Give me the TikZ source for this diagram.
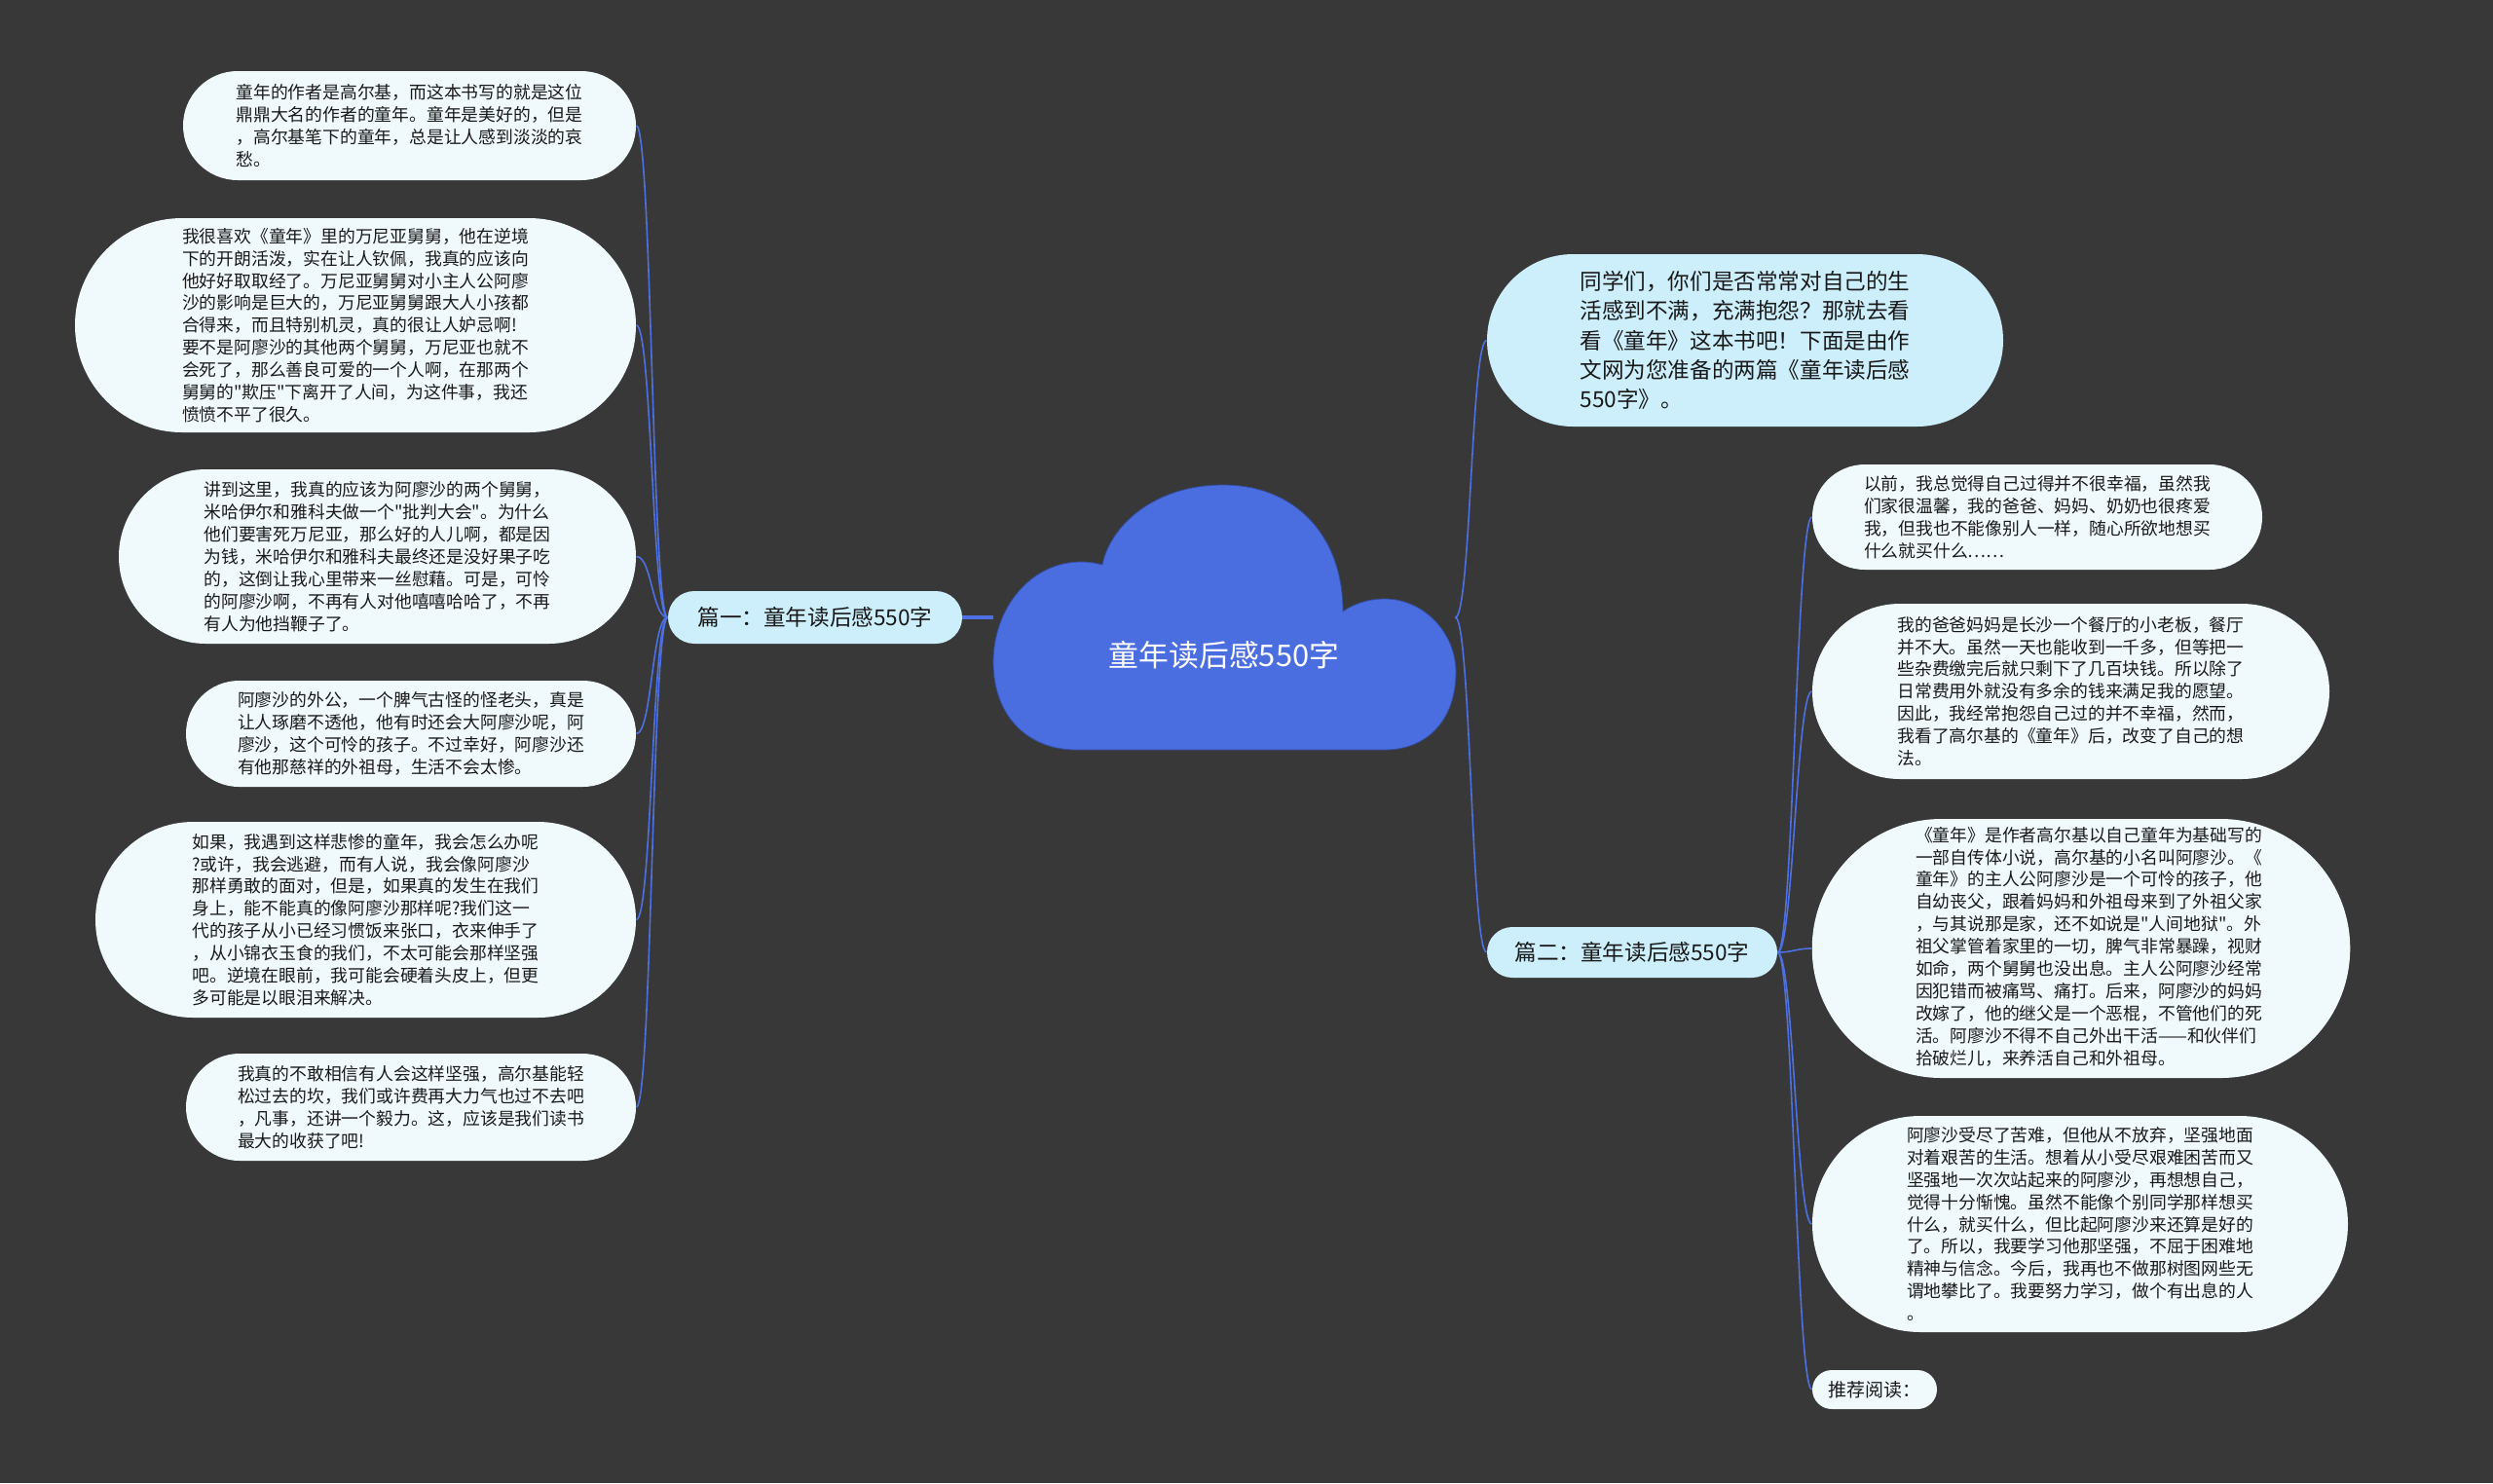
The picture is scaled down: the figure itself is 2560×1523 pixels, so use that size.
\documentclass[tikz,border=0pt]{standalone}
\usepackage{fontspec}
\newfontfamily\cjk{Noto Sans CJK SC}
\usetikzlibrary{shapes.misc}

\definecolor{bgdark}{HTML}{383838}
\definecolor{cloudblue}{HTML}{4A6EE0}
\definecolor{wireblue}{HTML}{4D70E2}
\definecolor{leaffill}{HTML}{F0FAFD}
\definecolor{branchfill}{HTML}{CDEEFB}

\begin{document}
\begin{tikzpicture}[x=0.5pt, y=-0.5pt,
  leaf/.style={rounded rectangle, fill=leaffill, inner sep=0pt, align=left,
    text=black!90, font=\cjk\fontsize{8.9}{11.45}\selectfont},
  branch/.style={rounded rectangle, fill=branchfill, inner sep=0pt, align=left,
    text=black!90, font=\cjk\fontsize{11.3}{15.1}\selectfont},
  wire/.style={wireblue, line width=0.8pt}]

  % --- Background ---
  \fill[bgdark] (0,0) rectangle (2560,1523);

  % --- Cloud ---
  \fill[cloudblue, draw=cloudblue!70!black, line width=0.4pt]
    (1105,770) -- (1422,770)
    .. controls (1465,770) and (1495,740) .. (1495,690)
    .. controls (1495,650) and (1462,615) .. (1422,615)
    .. controls (1405,615) and (1390,620) .. (1379,628)
    .. controls (1379,550) and (1330,498) .. (1256,498)
    .. controls (1185,498) and (1140,540) .. (1132,580)
    .. controls (1125,578) and (1118,577) .. (1110,577)
    .. controls (1058,577) and (1020,625) .. (1020,680)
    .. controls (1020,735) and (1055,770) .. (1105,770) -- cycle;
  \node[minimum width=237pt, minimum height=136pt, inner sep=0pt] (root) at (1257,634) {};
  \node[text=white, font=\cjk\fontsize{15.4}{18}\selectfont] (title) at (1257,673) {童年读后感550字};

  % --- Branches ---
  \node[branch, minimum width=151pt, minimum height=27pt] (p1) at (837,634) {篇一：童年读后感550字};
  \node[branch, minimum width=149pt, minimum height=26pt] (p2) at (1676,978) {篇二：童年读后感550字};
  \node[branch, minimum width=265pt, minimum height=88.5pt] (intro) at (1792,349.5)
    {同学们，你们是否常常对自己的生\\活感到不满，充满抱怨？那就去看\\看《童年》这本书吧！下面是由作\\文网为您准备的两篇《童年读后感\\550字》。};

  % --- Left leaves ---
  \node[leaf, minimum width=232.5pt, minimum height=56pt] (l1) at (420.5,129)
    {童年的作者是高尔基，而这本书写的就是这位\\鼎鼎大名的作者的童年。童年是美好的，但是\\，高尔基笔下的童年，总是让人感到淡淡的哀\\愁。};
  \node[leaf, minimum width=288pt, minimum height=110pt] (l2) at (365,334)
    {我很喜欢《童年》里的万尼亚舅舅，他在逆境\\下的开朗活泼，实在让人钦佩，我真的应该向\\他好好取取经了。万尼亚舅舅对小主人公阿廖\\沙的影响是巨大的，万尼亚舅舅跟大人小孩都\\合得来，而且特别机灵，真的很让人妒忌啊!\\要不是阿廖沙的其他两个舅舅，万尼亚也就不\\会死了，那么善良可爱的一个人啊，在那两个\\舅舅的"欺压"下离开了人间，为这件事，我还\\愤愤不平了很久。};
  \node[leaf, minimum width=265.5pt, minimum height=89.5pt] (l3) at (387.5,571.5)
    {讲到这里，我真的应该为阿廖沙的两个舅舅，\\米哈伊尔和雅科夫做一个"批判大会"。为什么\\他们要害死万尼亚，那么好的人儿啊，都是因\\为钱，米哈伊尔和雅科夫最终还是没好果子吃\\的，这倒让我心里带来一丝慰藉。可是，可怜\\的阿廖沙啊，不再有人对他嘻嘻哈哈了，不再\\有人为他挡鞭子了。};
  \node[leaf, minimum width=231pt, minimum height=54.5pt] (l4) at (422,753.5)
    {阿廖沙的外公，一个脾气古怪的怪老头，真是\\让人琢磨不透他，他有时还会大阿廖沙呢，阿\\廖沙，这个可怜的孩子。不过幸好，阿廖沙还\\有他那慈祥的外祖母，生活不会太惨。};
  \node[leaf, minimum width=277.5pt, minimum height=100.5pt] (l5) at (375.5,944.5)
    {如果，我遇到这样悲惨的童年，我会怎么办呢\\?或许，我会逃避，而有人说，我会像阿廖沙\\那样勇敢的面对，但是，如果真的发生在我们\\身上，能不能真的像阿廖沙那样呢?我们这一\\代的孩子从小已经习惯饭来张口，衣来伸手了\\，从小锦衣玉食的我们，不太可能会那样坚强\\吧。逆境在眼前，我可能会硬着头皮上，但更\\多可能是以眼泪来解决。};
  \node[leaf, minimum width=231pt, minimum height=55pt] (l6) at (422,1137)
    {我真的不敢相信有人会这样坚强，高尔基能轻\\松过去的坎，我们或许费再大力气也过不去吧\\，凡事，还讲一个毅力。这，应该是我们读书\\最大的收获了吧!};

  % --- Right leaves ---
  \node[leaf, minimum width=231pt, minimum height=54pt] (r1) at (2092,531)
    {以前，我总觉得自己过得并不很幸福，虽然我\\们家很温馨，我的爸爸、妈妈、奶奶也很疼爱\\我，但我也不能像别人一样，随心所欲地想买\\什么就买什么……};
  \node[leaf, minimum width=265.5pt, minimum height=90pt] (r2) at (2126.5,710)
    {我的爸爸妈妈是长沙一个餐厅的小老板，餐厅\\并不大。虽然一天也能收到一千多，但等把一\\些杂费缴完后就只剩下了几百块钱。所以除了\\日常费用外就没有多余的钱来满足我的愿望。\\因此，我经常抱怨自己过的并不幸福，然而，\\我看了高尔基的《童年》后，改变了自己的想\\法。};
  \node[leaf, minimum width=276pt, minimum height=133pt] (r3) at (2137,974)
    {\begin{tabular}{@{\hspace{8pt}}l@{}}%
    《童年》是作者高尔基以自己童年为基础写的\\一部自传体小说，高尔基的小名叫阿廖沙。《\\童年》的主人公阿廖沙是一个可怜的孩子，他\\自幼丧父，跟着妈妈和外祖母来到了外祖父家\\，与其说那是家，还不如说是"人间地狱"。外\\祖父掌管着家里的一切，脾气非常暴躁，视财\\如命，两个舅舅也没出息。主人公阿廖沙经常\\因犯错而被痛骂、痛打。后来，阿廖沙的妈妈\\改嫁了，他的继父是一个恶棍，不管他们的死\\活。阿廖沙不得不自己外出干活——和伙伴们\\拾破烂儿，来养活自己和外祖母。
    \end{tabular}};
  \node[leaf, minimum width=275pt, minimum height=111pt] (r4) at (2136,1257)
    {阿廖沙受尽了苦难，但他从不放弃，坚强地面\\对着艰苦的生活。想着从小受尽艰难困苦而又\\坚强地一次次站起来的阿廖沙，再想想自己，\\觉得十分惭愧。虽然不能像个别同学那样想买\\什么，就买什么，但比起阿廖沙来还算是好的\\了。所以，我要学习他那坚强，不屈于困难地\\精神与信念。今后，我再也不做那树图网些无\\谓地攀比了。我要努力学习，做个有出息的人\\。};
  \node[leaf, minimum width=64pt, minimum height=20pt, font=\cjk\fontsize{9.5}{11}\selectfont] (r5) at (1925,1427) {推荐阅读：};

  % --- Connectors ---
  \draw[wireblue, line width=2pt] (p1.east) -- (root.west);
  \draw[wire] (root.east) .. controls +(16,0) and +(-16,0) .. (intro.west);
  \draw[wire] (root.east) .. controls +(16,0) and +(-16,0) .. (p2.west);
  \foreach \i in {1,...,6}
    \draw[wire] (p1.west) .. controls +(-16,0) and +(16,0) .. (l\i.east);
  \foreach \i in {1,...,5}
    \draw[wire] (p2.east) .. controls +(16,0) and +(-16,0) .. (r\i.west);

\end{tikzpicture}
\end{document}
